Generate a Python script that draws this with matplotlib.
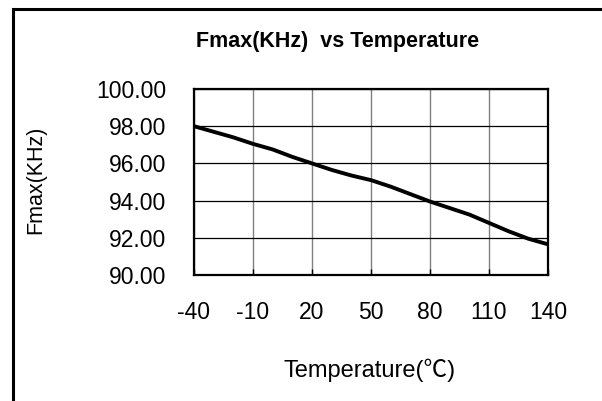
import matplotlib.pyplot as plt
from matplotlib.patches import Rectangle

# data
temps = [-40, -30, -20, -10, 0, 10, 20, 30, 40, 50, 60, 70, 80, 90, 100, 110, 120, 130, 140]
fmax = [98.0, 97.7, 97.4, 97.05, 96.75, 96.35, 96.0, 95.65, 95.35, 95.1,
        94.75, 94.35, 93.95, 93.6, 93.25, 92.8, 92.35, 91.95, 91.65]
x_ticks = [-40, -10, 20, 50, 80, 110, 140]
y_ticks = [90, 92, 94, 96, 98, 100]

plt.rcParams['font.family'] = ['Liberation Sans', 'Noto Sans CJK SC', 'DejaVu Sans']
plt.rcParams['axes.unicode_minus'] = False

fig = plt.figure(figsize=(6.02, 4.01), dpi=100)
ax = fig.add_axes([194 / 602, 1 - 275 / 401, 354 / 602, 186 / 401])

ax.plot(temps, fmax, color='black', lw=2.8, solid_capstyle='butt')

ax.set_xlim(-40, 140)
ax.set_ylim(90, 100)
ax.set_xticks(x_ticks)
ax.set_yticks(y_ticks)
ax.set_yticklabels([f'{v:.2f}' for v in y_ticks])

ax.grid(axis='x', color='#808080', lw=1.0)
ax.grid(axis='y', color='black', lw=0.9)
ax.set_axisbelow(True)
for s in ax.spines.values():
    s.set_linewidth(1.6)

ax.tick_params(axis='x', direction='in', length=4, width=1, pad=19, labelsize=16.5)
ax.tick_params(axis='y', length=0, pad=20, labelsize=16.5)

fig.text(338 / 602, 1 - 42 / 401, 'Fmax(KHz)  vs Temperature', ha='center', va='center',
         fontsize=15.5, fontweight='bold')
fig.text(36 / 602, 1 - 180 / 401, 'Fmax(KHz)', rotation=90, ha='center', va='center', fontsize=15.5)
fig.text(370 / 602, 1 - 370 / 401, 'Temperature(℃)', ha='center', va='center', fontsize=17)

# outer frame of the chart area (only left and top edges fall inside the image)
fig.patches.append(Rectangle((12.5 / 602, -0.1), 1.0, 1.1 - 8.5 / 401,
                             transform=fig.transFigure, fill=False, ec='black', lw=2.2))

fig.savefig('out.png', dpi=100)
